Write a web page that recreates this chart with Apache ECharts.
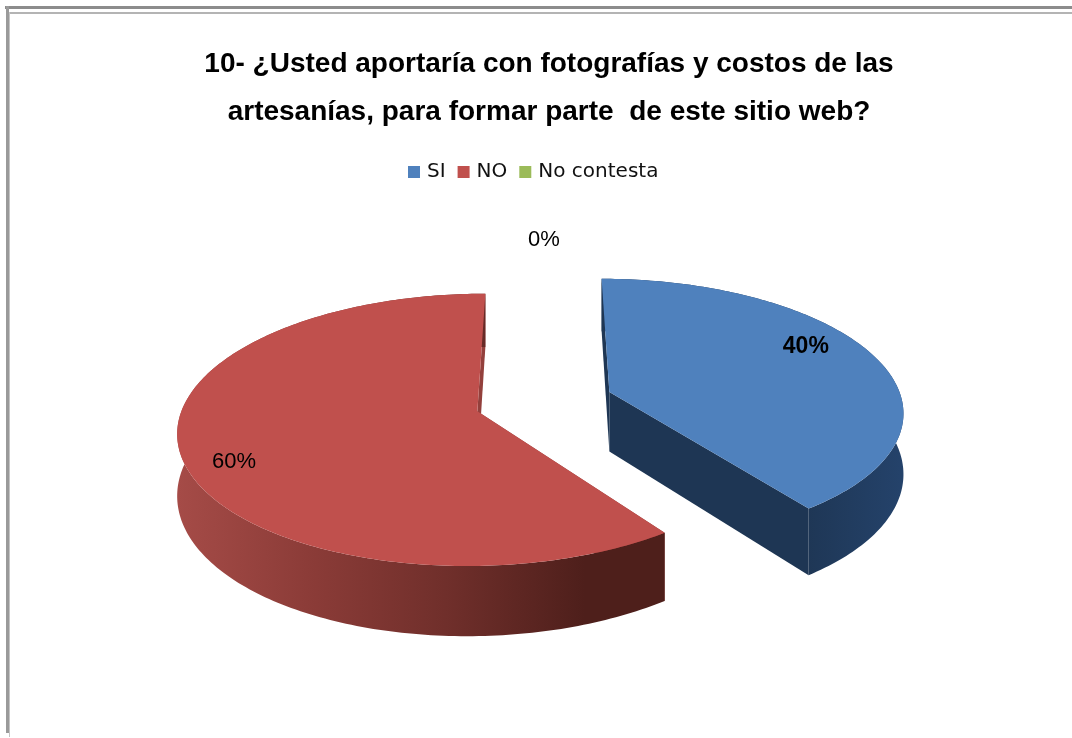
<!DOCTYPE html>
<html>
<head>
<meta charset="utf-8">
<style>
	html, body { margin: 0; padding: 0; background: #fff; }
	#main { width: 1072px; height: 738px; }
</style>
<script src="https://cdn.jsdelivr.net/npm/echarts@6/dist/echarts.min.js"></script>
</head>
<body>
<div id="main"></div>
<script>
	var titleText = '10- ¿Usted aportaría con fotografías y costos de las\nartesanías, para formar parte  de este sitio web?'
	var categories = ['SI', 'NO', 'No contesta']
	var values = [40, 60, 0]
	var topColors = ['#4F81BD', '#C0504D', '#9BBB59']

	// view of the tilted pie
	var view = { x: 544, y: 401.5, radius: 293, tilt: 0.447, persp: 0.1356, explode: 69.4, depth: 60 }
	// label: shift from the slice middle (degrees), distance (share of radius)
	var labelPlace = [[-9, 0.81], [-7, 0.85], [0, 1.25]]
	var labelFonts = ['bold 23px "Liberation Sans"', '22px "Liberation Sans"', '22px "Liberation Sans"']

	var total = values.reduce(function (a, b) { return a + b }, 0)

	function rad(deg) {
		return deg * Math.PI / 180
	}

	// plane point (u to the right, v to the back, z down) to screen
	function project(u, v, z) {
		var w = 1 + view.persp * v / view.radius
		return [view.x + u / w, view.y + (z - view.tilt * v) / w]
	}

	function rimPoint(ox, oy, deg, z) {
		return project(ox + view.radius * Math.sin(rad(deg)), oy + view.radius * Math.cos(rad(deg)), z)
	}

	function arc(ox, oy, from, to, z) {
		var pts = []
		var steps = Math.max(1, Math.ceil(to - from))
		for (var i = 0; i <= steps; i++) {
			pts.push(rimPoint(ox, oy, from + (to - from) * i / steps, z))
		}
		return pts
	}

	function poly(points, fill) {
		return { type: 'polygon', shape: { points: points }, style: { fill: fill } }
	}

	function sliceSeries(index) {
		var before = 0
		for (var i = 0; i < index; i++) before += values[i]
		return {
			name: categories[index],
			type: 'custom',
			coordinateSystem: 'none',
			itemStyle: { color: topColors[index] },
			data: [[values[index], before]],
			renderItem: function (params, api) {
				var from = api.value(1) / total * 360
				var to = from + api.value(0) / total * 360
				var mid = (from + to) / 2
				var ox = view.explode * Math.sin(rad(mid))
				var oy = view.explode * Math.cos(rad(mid))
				var children = []
				if (to > from) {
					var d = view.depth
					var rimFill = index === 0 ?
						new echarts.graphic.LinearGradient(800, 0, 900, 0, [
							{ offset: 0, color: '#1E3654' },
							{ offset: 1, color: '#24426A' }
						], true) :
						new echarts.graphic.LinearGradient(178, 0, 640, 0, [
							{ offset: 0, color: '#A54B47' },
							{ offset: 0.3, color: '#8A3B37' },
							{ offset: 0.6, color: '#6E2E2A' },
							{ offset: 0.88, color: '#4E1F1B' },
							{ offset: 1, color: '#4E1F1B' }
						], true)
					var faceFill = index === 0 ? '#1E3654' : '#93403C'
					var apexTop = project(ox, oy, 0)
					var apexBottom = project(ox, oy, d)
					children.push(poly([apexTop, rimPoint(ox, oy, from, 0), rimPoint(ox, oy, from, d), apexBottom], faceFill))
					children.push(poly([apexTop, rimPoint(ox, oy, to, 0), rimPoint(ox, oy, to, d), apexBottom], faceFill))
					children.push(poly(arc(ox, oy, from, to, 0).concat(arc(ox, oy, from, to, d).reverse()), rimFill))
					children.push(poly([apexTop].concat(arc(ox, oy, from, to, 0)), topColors[index]))
				}
				var place = labelPlace[index]
				var r = view.radius * place[1]
				var at = project(ox + r * Math.sin(rad(mid + place[0])), oy + r * Math.cos(rad(mid + place[0])), 0)
				children.push({
					type: 'text',
					style: {
						text: Math.round(api.value(0) / total * 100) + '%',
						x: at[0],
						y: at[1],
						fill: '#000',
						font: labelFonts[index],
						textAlign: 'center',
						textVerticalAlign: 'middle'
					}
				})
				return { type: 'group', children: children }
			}
		}
	}

	var chart = echarts.init(document.getElementById('main'))
	chart.setOption({
		backgroundColor: '#fff',
		animation: false,
		title: {
			text: titleText,
			left: 544,
			top: 35,
			textAlign: 'center',
			textStyle: {
				fontFamily: 'Liberation Sans',
				fontSize: 28,
				fontWeight: 'bold',
				color: '#000',
				lineHeight: 48
			}
		},
		legend: {
			data: categories,
			top: 157,
			left: 403,
			icon: 'rect',
			itemWidth: 12,
			itemHeight: 12,
			itemGap: 12,
			textStyle: {
				fontFamily: 'DejaVu Sans',
				fontSize: 20,
				color: '#111',
				padding: [0, 0, 0, 2]
			}
		},
		graphic: [
			{ type: 'rect', shape: { x: 5, y: 6, width: 1067, height: 3 }, style: { fill: '#8C8C8C' } },
			{ type: 'rect', shape: { x: 9, y: 12, width: 1063, height: 2 }, style: { fill: '#B4B4B4' } },
			{ type: 'rect', shape: { x: 6, y: 6, width: 3, height: 727 }, style: { fill: '#9A9A9A' } },
			{ type: 'rect', shape: { x: 9, y: 12, width: 1, height: 725 }, style: { fill: '#C4C4C4' } }
		],
		series: categories.map(function (name, i) {
			return sliceSeries(i)
		})
	})
</script>
</body>
</html>
